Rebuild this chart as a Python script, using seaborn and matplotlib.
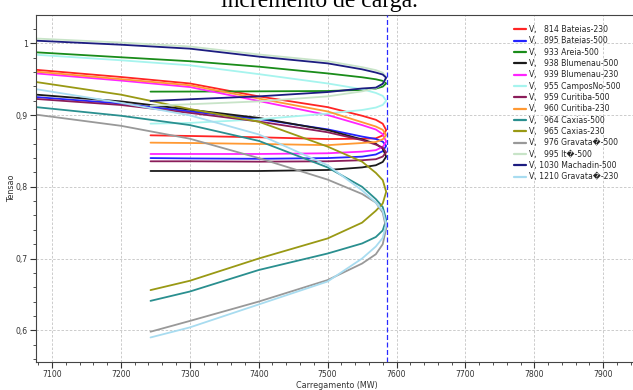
import matplotlib
matplotlib.use("Agg")
import matplotlib.pyplot as plt
import seaborn as sns
import pandas as pd
from matplotlib.ticker import MultipleLocator

# ---------------- data ----------------
bus_labels = [
    "V, \u2007814 Bateias-230",
    "V, \u2007895 Bateias-500",
    "V, \u2007933 Areia-500",
    "V, \u2007938 Blumenau-500",
    "V, \u2007939 Blumenau-230",
    "V, \u2007955 CamposNo-500",
    "V, \u2007959 Curitiba-500",
    "V, \u2007960 Curitiba-230",
    "V, \u2007964 Caxias-500",
    "V, \u2007965 Caxias-230",
    "V, \u2007976 Gravata\ufffd-500",
    "V, \u2007995 It\ufffd-500",
    "V, 1030 Machadin-500",
    "V, 1210 Gravata\ufffd-230",
]
bus_colors = ["#ff2424", "#2424ff", "#1a8c1a", "#1a1a1a", "#ff24ff", "#a6f4ee",
              "#8b1d5a", "#ff9933", "#2a8f8f", "#999914", "#999999", "#c8e4c8",
              "#1c1c80", "#a8dcf0"]

# loading path (MW): upper branch to the nose, then lower branch back
carregamento = [7077, 7200, 7300, 7400, 7500, 7550, 7570, 7580, 7585,
                7580, 7570, 7550, 7500, 7400, 7300, 7243]

v_814 = [0.963, 0.953, 0.944, 0.926, 0.911, 0.899, 0.8934, 0.8879, 0.879,
         0.8716, 0.8675, 0.867, 0.8665, 0.869, 0.8708, 0.8717]
v_895 = [0.925, 0.916, 0.905, 0.8945, 0.880, 0.870, 0.8666, 0.8629, 0.857,
         0.8496, 0.845, 0.842, 0.840, 0.839, 0.8395, 0.840]
v_933 = [0.9874, 0.9805, 0.975, 0.9674, 0.958, 0.9526, 0.9498, 0.9476, 0.944,
         0.9396, 0.9368, 0.935, 0.9335, 0.933, 0.9327, 0.9326]
v_938 = [0.9284, 0.919, 0.9075, 0.896, 0.879, 0.866, 0.860, 0.853, 0.842,
         0.8346, 0.830, 0.827, 0.8234, 0.822, 0.822, 0.822]
v_939 = [0.958, 0.948, 0.939, 0.9196, 0.900, 0.886, 0.8798, 0.8734, 0.863,
         0.8556, 0.851, 0.849, 0.8467, 0.8457, 0.8457, 0.8457]
v_955 = [0.984, 0.9763, 0.9693, 0.957, 0.944, 0.936, 0.9308, 0.9267, 0.920,
         0.9141, 0.9104, 0.907, 0.902, 0.894, 0.889, 0.888]
v_959 = [0.9224, 0.914, 0.903, 0.891, 0.876, 0.865, 0.8588, 0.8547, 0.848,
         0.8421, 0.8384, 0.837, 0.8355, 0.835, 0.8355, 0.8355]
v_960 = [0.9604, 0.950, 0.9415, 0.923, 0.905, 0.890, 0.884, 0.8794, 0.872,
         0.8661, 0.8624, 0.861, 0.858, 0.8597, 0.861, 0.8615]
v_964 = [0.911, 0.899, 0.886, 0.864, 0.827, 0.800, 0.7828, 0.7718, 0.754,
         0.7392, 0.730, 0.721, 0.707, 0.684, 0.654, 0.641]
v_965 = [0.946, 0.9284, 0.9084, 0.8907, 0.856, 0.835, 0.8194, 0.8093, 0.793,
         0.7767, 0.7666, 0.750, 0.728, 0.700, 0.669, 0.656]
v_976 = [0.9005, 0.885, 0.867, 0.840, 0.810, 0.790, 0.778, 0.764, 0.742,
         0.720, 0.706, 0.693, 0.670, 0.640, 0.613, 0.598]
v_995 = [1.0066, 1.001, 0.9955, 0.9844, 0.975, 0.9667, 0.9626, 0.9589, 0.953,
         0.9434, 0.9374, 0.933, 0.926, 0.919, 0.915, 0.913]
v_1030 = [1.0036, 0.998, 0.9925, 0.9814, 0.972, 0.9637, 0.9592, 0.9564, 0.952,
          0.9435, 0.9382, 0.937, 0.932, 0.926, 0.922, 0.9196]
v_1210 = [0.936, 0.917, 0.8996, 0.873, 0.830, 0.795, 0.778, 0.7665, 0.748,
          0.7288, 0.7168, 0.700, 0.668, 0.636, 0.604, 0.590]

series_values = [v_814, v_895, v_933, v_938, v_939, v_955, v_959, v_960,
                 v_964, v_965, v_976, v_995, v_1030, v_1210]

x_ticks = [7100, 7200, 7300, 7400, 7500, 7600, 7700, 7800, 7900]
y_ticks = [0.6, 0.7, 0.8, 0.9, 1.0]
y_tick_labels = ["0,6", "0,7", "0,8", "0,9", "1"]
max_load = 7586
title_text = "incremento de carga."

# ---------------- table ----------------
rows = []
for lab, vals in zip(bus_labels, series_values):
    for i, (p, v) in enumerate(zip(carregamento, vals)):
        rows.append({"Carregamento": p, "Tensao": v, "Barra": lab, "ordem": i})
df = pd.DataFrame(rows)

# ---------------- figure ----------------
sns.set_style("ticks")
plt.rcParams["font.family"] = ["DejaVu Sans"]

W, H = 633, 390
fig = plt.figure(figsize=(W / 100, H / 100), dpi=100)
L, R, T, B = 36, 637, 15, 362
ax = fig.add_axes([L / W, (H - B) / H, (R - L) / W, (B - T) / H])

pal = dict(zip(bus_labels, bus_colors))
sns.lineplot(data=df, x="Carregamento", y="Tensao", hue="Barra",
             hue_order=bus_labels, palette=pal, sort=False, estimator=None,
             units="Barra", linewidth=1.3, ax=ax, legend=True)
for ln in ax.get_lines():
    ln.set_solid_joinstyle("round")

ax.axvline(max_load, color="#2a2aff", lw=0.9, ls=(0, (4, 2)), zorder=5)

ax.set_xlim(7076.8, 7949)
ax.set_ylim(0.5558, 1.0394)
ax.set_xticks(x_ticks)
ax.set_xticklabels([str(t) for t in x_ticks])
ax.set_yticks(y_ticks)
ax.set_yticklabels(y_tick_labels)
ax.xaxis.set_minor_locator(MultipleLocator(20))
ax.yaxis.set_minor_locator(MultipleLocator(0.02))
ax.tick_params(which="major", length=4, width=0.8, labelsize=5.6,
               colors="#333333", pad=2)
ax.tick_params(which="minor", length=2, width=0.6, color="#333333")
ax.grid(True, which="major", color="#c4c4c4", lw=0.6, ls=(0, (3, 2)))

for s in ["left", "bottom", "top"]:
    ax.spines[s].set_color("#444444")
    ax.spines[s].set_linewidth(0.8)
ax.spines["right"].set_visible(False)

ax.set_xlabel("Carregamento (MW)", fontsize=5.8, color="#333333")
ax.set_ylabel("Tensao", fontsize=5.8, color="#333333")
ax.xaxis.set_label_coords(0.5, -(381 - B) / (B - T))
ax.yaxis.set_label_coords(-(L - 16) / (R - L), 0.5)

handles, labs = ax.get_legend_handles_labels()
for h in handles:
    h.set_linewidth(1.6)
ax.legend(handles, labs, loc="upper left", bbox_to_anchor=(514 / W, 1 - 25 / H),
          bbox_transform=fig.transFigure, frameon=False, fontsize=5.6,
          handlelength=1.55, handletextpad=0.4, labelspacing=0.3,
          borderpad=0, borderaxespad=0)

fig.text(0.505, 1 - 7.5 / H, title_text, family="Liberation Serif", fontsize=17,
         ha="center", va="baseline", color="black")

fig.savefig("out.png", dpi=100)
